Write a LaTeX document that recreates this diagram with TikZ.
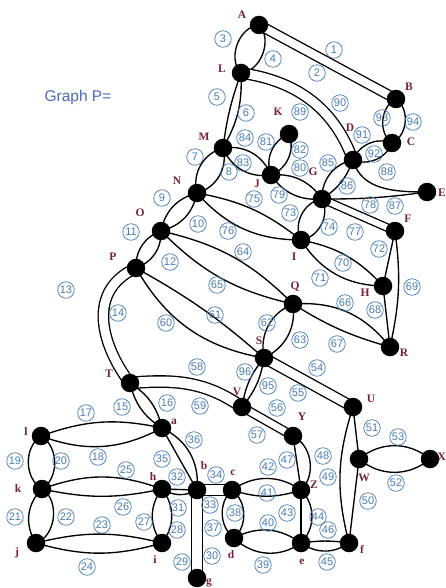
\documentclass[tikz,border=0pt]{standalone}
\usepackage{fontspec}
\setmainfont{Liberation Serif}
\newfontfamily\numfont{Liberation Sans}
\definecolor{numblue}{RGB}{72,124,180}
\definecolor{titleblue}{RGB}{78,104,186}
\definecolor{namered}{RGB}{118,32,62}
\pgfdeclarelayer{edgelayer}
\pgfsetlayers{edgelayer,main}
\tikzset{
  vertex/.style={circle,fill=black,minimum size=18.5pt,inner sep=0pt},
  vlabel/.style={font=\bfseries\fontsize{11.5}{12}\selectfont,text=namered,inner sep=0pt},
  enum/.style={circle,draw=numblue,line width=0.75pt,minimum size=16.5pt,inner sep=0pt,
    text=numblue,font=\numfont\fontsize{11}{11}\selectfont},
  link/.style={draw=black,line width=1.35pt},
  twin/.style={link,double=white,double distance=#1},
  twin/.default=8pt
}
% two curved edges between the same pair of vertices, bulging apart
\newcommand\lenspair[4]{%
  \draw[link] (#1.center) to[bend left=#3] (#2.center);
  \draw[link] (#1.center) to[bend right=#4] (#2.center);}
\begin{document}
\begin{tikzpicture}[x=1pt,y=1pt]
\useasboundingbox (0,-588) rectangle (446,0);

\node[font=\numfont\fontsize{15.5}{16}\selectfont,text=titleblue] (title) at (78,-97) {Graph P=};

% vertices
\node[vertex] (A) at (259,-25) {};
\node[vertex] (L) at (241,-73) {};
\node[vertex] (B) at (396,-99) {};
\node[vertex] (C) at (392,-143) {};
\node[vertex] (D) at (353,-160) {};
\node[vertex] (K) at (289,-134) {};
\node[vertex] (M) at (223,-148) {};
\node[vertex] (J) at (271,-175) {};
\node[vertex] (G) at (322,-199) {};
\node[vertex] (E) at (427,-192) {};
\node[vertex] (N) at (197,-193) {};
\node[vertex] (O) at (161,-231) {};
\node[vertex] (P) at (136,-268) {};
\node[vertex] (I) at (301,-240) {};
\node[vertex] (F) at (395,-231) {};
\node[vertex] (H) at (383,-286) {};
\node[vertex] (Q) at (293,-304) {};
\node[vertex] (R) at (390,-347) {};
\node[vertex] (S) at (264,-358) {};
\node[vertex] (T) at (130,-383) {};
\node[vertex] (V) at (242,-407) {};
\node[vertex] (U) at (353,-407) {};
\node[vertex] (Y) at (293,-436) {};
\node[vertex] (a) at (162,-428) {};
\node[vertex] (l) at (41,-436) {};
\node[vertex] (k) at (42,-489) {};
\node[vertex] (h) at (162,-489) {};
\node[vertex] (b) at (197,-490) {};
\node[vertex] (c) at (232,-490) {};
\node[vertex] (Z) at (301,-490) {};
\node[vertex] (W) at (359,-459) {};
\node[vertex] (X) at (430,-459) {};
\node[vertex] (d) at (234,-538) {};
\node[vertex] (e) at (301,-543) {};
\node[vertex] (f) at (349,-543) {};
\node[vertex] (j) at (36,-543) {};
\node[vertex] (i) at (162,-543) {};
\node[vertex] (g) at (197,-578) {};

% edges
\begin{pgfonlayer}{edgelayer}
\draw[twin] (A.center) -- (B.center);
\lenspair{A}{L}{65}{65}
\lenspair{L}{M}{16}{6}
\lenspair{M}{N}{45}{45}
\lenspair{N}{O}{32}{32}
\lenspair{O}{P}{36}{36}
\draw[twin=9pt] (P.center) .. controls (82,-293) and (106,-352) .. (T.center);
\lenspair{T}{a}{22}{22}
\lenspair{l}{a}{16}{24}
\lenspair{l}{k}{58}{58}
\lenspair{k}{j}{65}{40}
\lenspair{j}{i}{14}{16}
\lenspair{k}{h}{20}{12}
\lenspair{h}{i}{38}{38}
\draw[twin=9.5pt] (b.center) -- (g.center);
\draw[link] (h.center) -- (b.center);
\draw[link] (h.center) to[bend right=30] (b.center);
\draw[twin=9.5pt] (b.center) -- (c.center);
\draw[link] (a.center) -- (b.center);
\draw[link] (a.center) to[bend left=35] (b.center);
\lenspair{c}{d}{50}{50}
\lenspair{d}{e}{32}{40}
\lenspair{c}{Z}{35}{18}
\draw[link] (Z.center) -- (e.center);
\draw[link] (Z.center) to[bend left=45] (e.center);
\draw[link] (e.center) to[bend left=8] (f.center);
\draw[link] (e.center) to[bend right=35] (f.center);
\draw[link] (Y.center) -- (Z.center);
\draw[link] (Y.center) to[bend left=55] (Z.center);
\draw[link] (U.center) to[bend right=16] (f.center);
\draw[link] (W.center) -- (f.center);
\draw[link] (U.center) -- (W.center);
\lenspair{W}{X}{40}{40}
\draw[twin=8.7pt] (S.center) -- (U.center);
\draw[twin=6.7pt] (V.center) -- (Y.center);
\draw[twin=10pt] (T.center) to[out=5,in=145] (V.center);
\lenspair{P}{S}{6}{25}
\lenspair{Q}{S}{36}{40}
\lenspair{O}{Q}{16}{16}
\lenspair{Q}{R}{28}{8}
\draw[link] (H.center) -- (R.center);
\draw[link] (F.center) to[bend left=10] (R.center);
\lenspair{I}{H}{18}{28}
\draw[link] (F.center) -- (H.center);
\lenspair{G}{I}{55}{55}
\lenspair{N}{I}{14}{24}
\draw[twin=6pt] (G.center) -- (F.center);
\lenspair{J}{G}{30}{30}
\lenspair{J}{K}{45}{45}
\lenspair{M}{J}{38}{38}
\lenspair{G}{D}{40}{18}
\draw[link] (G.center) to[bend right=4] (E.center);
\draw[link] (D.center) to[out=-75,in=180] (E.center);
\draw[twin=9pt] (L.center) to[out=-8,in=110] (D.center);
\lenspair{D}{C}{45}{45}
\lenspair{B}{C}{60}{60}
\lenspair{S}{V}{15}{15}
\end{pgfonlayer}

% vertex names
\node[vlabel] (tA) at (242,-15) {A};
\node[vlabel] (tL) at (222,-69) {L};
\node[vlabel] (tB) at (409,-87) {B};
\node[vlabel] (tC) at (411,-142) {C};
\node[vlabel] (tD) at (350,-128) {D};
\node[vlabel] (tK) at (278,-112) {K};
\node[vlabel] (tM) at (204,-137) {M};
\node[vlabel] (tJ) at (257,-184) {J};
\node[vlabel] (tG) at (313,-172) {G};
\node[vlabel,anchor=east] (tE) at (446,-193) {E};
\node[vlabel] (tN) at (177,-181) {N};
\node[vlabel] (tO) at (140,-213) {O};
\node[vlabel] (tP) at (113,-257) {P};
\node[vlabel] (tF) at (408,-219) {F};
\node[vlabel] (tI) at (294,-257) {I};
\node[vlabel] (tH) at (365,-293) {H};
\node[vlabel] (tQ) at (295,-287) {Q};
\node[vlabel] (tR) at (404,-353) {R};
\node[vlabel] (tS) at (259,-341) {S};
\node[vlabel] (tT) at (109,-374) {T};
\node[vlabel] (ta) at (174,-422) {a};
\node[vlabel] (tl) at (26,-432) {l};
\node[vlabel] (tk) at (18,-489) {k};
\node[vlabel] (th) at (153,-477) {h};
\node[vlabel] (tb) at (204,-466) {b};
\node[vlabel] (tj) at (17,-553) {j};
\node[vlabel] (ti) at (155,-560) {i};
\node[vlabel] (tg) at (209,-583) {g};
\node[vlabel] (tV) at (237,-392) {V};
\node[vlabel] (tU) at (371,-399) {U};
\node[vlabel] (tY) at (302,-417) {Y};
\node[vlabel] (tW) at (364,-478) {W};
\node[vlabel,anchor=east] (tX) at (446,-457) {X};
\node[vlabel] (tc) at (233,-473) {c};
\node[vlabel] (tZ) at (314,-485) {Z};
\node[vlabel] (td) at (231,-555) {d};
\node[vlabel] (te) at (302,-562) {e};
\node[vlabel] (tf) at (362,-549) {f};

% edge numbers
\foreach \n/\x/\y in {1/334/50, 2/317/73, 3/223/39, 4/273/59, 5/217/97, 6/246/113,
  7/195/157, 8/229/172, 9/162/198, 10/198/224, 11/131/232, 12/170/262,
  13/66/290, 14/118/313, 15/122/407, 16/167/403, 17/86/413, 18/98/457,
  19/15/461, 20/61/461, 21/15/517, 22/66/517, 23/102/525, 24/87/567,
  25/126/470, 26/123/507, 27/144/522, 28/177/530, 29/182/562, 30/212/556,
  31/178/508, 32/177/477, 33/210/505, 34/216/475, 35/162/459, 36/194/440,
  37/213/528, 38/235/513, 39/263/565, 40/268/523, 41/267/493, 42/268/467,
  43/287/513, 44/318/517, 45/327/562, 46/328/530, 47/287/460, 48/323/456,
  49/328/477, 50/368/501, 51/372/428, 52/396/483, 53/398/437, 54/317/368,
  55/298/393, 56/277/408, 57/257/435, 58/197/367, 59/200/406, 60/166/323,
  61/215/315, 62/267/323, 63/300/340, 64/243/252, 65/217/285, 66/345/303,
  67/337/344, 68/375/310, 69/412/287, 70/343/263, 71/320/278, 72/379/249,
  73/290/213, 74/329/227, 75/254/199, 76/228/231, 77/355/232, 78/370/205,
  79/279/195, 80/300/168, 81/266/142, 82/300/150, 83/243/163, 84/245/138,
  85/328/163, 86/347/186, 87/395/206, 88/387/172, 89/300/112, 90/340/103,
  91/362/135, 92/374/154, 93/382/118, 94/413/122, 95/268/386, 96/245/372}
  {\node[enum] (e\n) at (\x,-\y) {\n};}
\end{tikzpicture}
\end{document}
